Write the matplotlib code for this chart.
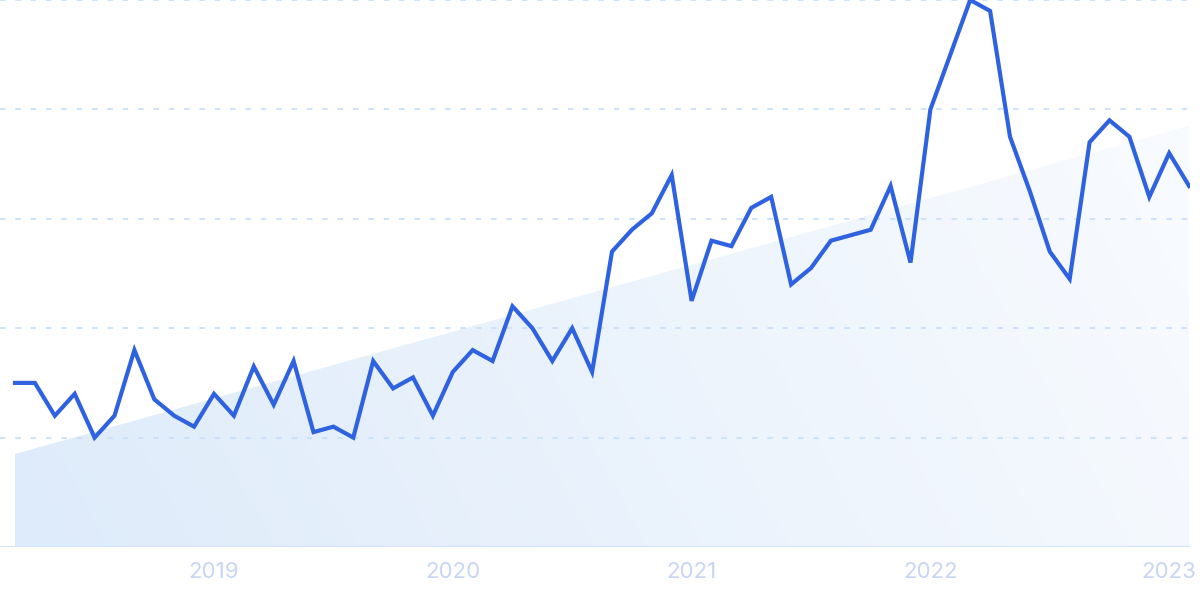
import numpy as np
import matplotlib.pyplot as plt
from matplotlib.colors import LinearSegmentedColormap

# monthly values, Mar 2018 .. Feb 2023
values = [30, 30, 24, 28, 20, 24, 36, 27, 24, 22,
          28, 24, 33, 26, 34, 21, 22, 20, 34, 29, 31, 24,
          32, 36, 34, 44, 40, 34, 40, 32, 54, 58, 61, 68,
          45, 56, 55, 62, 64, 48, 51, 56, 57, 58, 66, 52,
          80, 90, 100, 98, 75, 65, 54, 49, 74, 78, 75, 64,
          72, 66]
year_labels = ['2019', '2020', '2021', '2022', '2023']
year_idx = [10, 22, 34, 46, 58]   # january of each year
trend_ends = [17, 77]              # shaded trend band, start and end
grid_vals = [20, 40, 60, 80, 100]

x = np.arange(len(values))

fig = plt.figure(figsize=(12, 5.99), dpi=100)
ax = fig.add_axes([0, 52 / 599, 1190 / 1200, 547 / 599])

step = 19.9
ax.set_xlim(-15 / step, (1190 - 15) / step)
ax.set_ylim(0, 100)

# trend band with gradient
trend = np.linspace(trend_ends[0], trend_ends[1], len(values))
poly = ax.fill_between(x, 0, trend, color='none', lw=0)
gx, gy = np.meshgrid(np.linspace(0, 1, 300), np.linspace(0, 1, 100))
grad = 0.8 * gx + 0.2 * gy
cmap = LinearSegmentedColormap.from_list('g', ['#deebfa', '#fafcff'])
img = ax.imshow(grad, cmap=cmap, aspect='auto', origin='lower',
                extent=[x[0], x[-1], 0, 100], zorder=1)
img.set_clip_path(poly.get_paths()[0], transform=ax.transData)

for g in grid_vals:
    ax.axhline(g, color='#c9e0fa', lw=1.3, ls=(0, (3, 5.5)), zorder=2)
ax.axhline(0, color='#d3e5fb', lw=1.6, zorder=2)

ax.plot(x, values, color='#2f62e0', lw=3, solid_joinstyle='miter', zorder=3)

ax.set_xticks(year_idx)
ax.set_xticklabels(year_labels, fontsize=16, color='#c9d5f6', family='Inter')
ax.tick_params(axis='x', length=0, pad=11)
ax.set_yticks([])
for s in ax.spines.values():
    s.set_visible(False)

plt.savefig('out.png', dpi=100)
